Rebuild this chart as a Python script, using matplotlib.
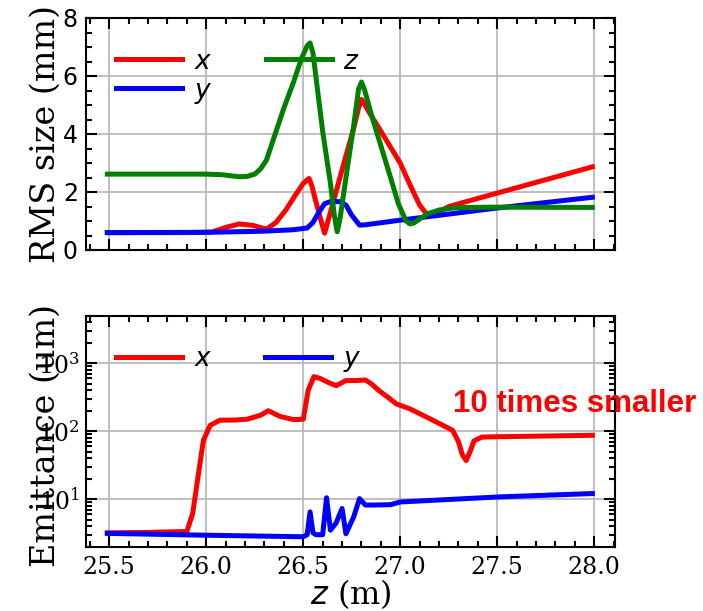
import matplotlib
matplotlib.use("Agg")
import matplotlib.pyplot as plt
from matplotlib.ticker import MultipleLocator, FuncFormatter, FormatStrFormatter, LogLocator, NullFormatter

# ---------------- data ----------------
# Top panel: RMS size (mm)
x_pos = [25.49, 25.90, 26.03, 26.10, 26.17, 26.24, 26.31, 26.36, 26.41, 26.46, 26.50, 26.52,
         26.53, 26.545, 26.56, 26.59, 26.61, 26.64, 26.68, 26.72, 26.76, 26.785, 26.80, 26.815,
         26.84, 26.90, 26.95, 27.00, 27.04, 27.07, 27.10, 27.13, 27.16, 27.20, 27.25, 27.34, 27.99]
x_rms = [0.60, 0.60, 0.62, 0.78, 0.90, 0.85, 0.72, 0.95, 1.38, 1.90, 2.30, 2.42,
         2.47, 2.20, 1.80, 1.05, 0.58, 1.30, 2.28, 3.25, 4.20, 4.90, 5.20, 5.05,
         4.75, 4.10, 3.55, 3.00, 2.40, 1.97, 1.55, 1.29, 1.20, 1.32, 1.50, 1.67, 2.87]

y_pos = [25.49, 26.00, 26.30, 26.45, 26.52, 26.55, 26.58, 26.61, 26.64, 26.69, 26.72,
         26.75, 26.79, 26.82, 27.00, 27.50, 27.99]
y_rms = [0.60, 0.61, 0.65, 0.70, 0.76, 0.95, 1.30, 1.60, 1.67, 1.67, 1.55,
         1.20, 0.86, 0.87, 1.03, 1.45, 1.82]

z_pos = [25.49, 25.70, 26.00, 26.08, 26.13, 26.17, 26.21, 26.25, 26.28, 26.31, 26.35, 26.40,
         26.45, 26.49, 26.52, 26.535, 26.55, 26.60, 26.64, 26.66, 26.675, 26.69, 26.72, 26.76,
         26.785, 26.80, 26.815, 26.85, 26.90, 26.95, 26.99, 27.03, 27.05, 27.07, 27.10, 27.14,
         27.20, 27.27, 27.34, 27.50, 27.99]
z_rms = [2.62, 2.62, 2.62, 2.60, 2.56, 2.53, 2.54, 2.62, 2.80, 3.10, 3.90, 4.90,
         5.80, 6.60, 7.05, 7.15, 6.80, 4.10, 2.30, 1.20, 0.63, 1.10, 2.50, 4.30,
         5.55, 5.80, 5.55, 4.70, 3.60, 2.50, 1.60, 1.00, 0.90, 0.93, 1.07, 1.25,
         1.38, 1.45, 1.47, 1.48, 1.47]

# Bottom panel: emittance (um)
ex_pos = [25.49, 25.70, 25.90, 25.93, 25.96, 25.985, 26.02, 26.07, 26.15, 26.21, 26.28, 26.32,
          26.38, 26.45, 26.50, 26.525, 26.555, 26.585, 26.63, 26.67, 26.72, 26.775, 26.82,
          26.85, 26.89, 26.94, 26.98, 27.05, 27.17, 27.27, 27.30, 27.32, 27.34, 27.36, 27.38,
          27.42, 27.51, 27.99]
ex_val = [3.2, 3.25, 3.35, 6.2, 23.8, 73, 122, 145, 146, 150, 172, 200,
          165, 148, 150, 396, 635, 600, 520, 467, 556, 556, 567,
          500, 396, 310, 252, 213, 144, 103, 70, 45, 37, 50, 72,
          82, 83, 87]

ey_pos = [25.49, 26.00, 26.50, 26.52, 26.535, 26.55, 26.565, 26.60, 26.62, 26.64, 26.67,
          26.70, 26.72, 26.76, 26.79, 26.82, 26.86, 26.95, 27.00, 27.51, 27.99]
ey_val = [3.14, 2.95, 2.80, 3.00, 6.5, 3.2, 3.0, 3.0, 10.5, 3.5, 4.5,
          7.3, 3.1, 5.5, 10.2, 8.2, 8.2, 8.3, 9.1, 10.8, 12.1]

x_ticks = [25.5, 26.0, 26.5, 27.0, 27.5, 28.0]
top_yticks = [0, 2, 4, 6, 8]

# ---------------- style ----------------
plt.rcParams['font.family'] = ['DejaVu Serif']
plt.rcParams['mathtext.fontset'] = 'dejavusans'

W, H = 703, 611
fig = plt.figure(figsize=(W / 100, H / 100), dpi=100)
ax1 = fig.add_axes([86 / W, 1 - 250 / H, (615 - 86) / W, (250 - 18.3) / H])
ax2 = fig.add_axes([86 / W, 1 - 546.7 / H, (615 - 86) / W, (546.7 - 315.7) / H])

lw = 3.6
ax1.plot(x_pos, x_rms, color='r', lw=lw, label='$x$', solid_joinstyle='round')
ax1.plot(y_pos, y_rms, color='b', lw=lw, label='$y$', solid_joinstyle='round')
ax1.plot(z_pos, z_rms, color='g', lw=lw, label='$z$', solid_joinstyle='round')

ax2.plot(ex_pos, ex_val, color='r', lw=lw, label='$x$', solid_joinstyle='round')
ax2.plot(ey_pos, ey_val, color='b', lw=lw, label='$y$', solid_joinstyle='round')
ax2.set_yscale('log')

for ax in (ax1, ax2):
    ax.set_xlim(25.38, 28.107)
    ax.set_xticks(x_ticks)
    ax.xaxis.set_minor_locator(MultipleLocator(0.1))
    ax.grid(True, which='major', color='#b4b4b4', lw=1.2)
    ax.set_axisbelow(True)
    ax.tick_params(which='both', direction='in', top=True, right=True, labelsize=17, width=1.5, pad=7)
    ax.tick_params(which='major', length=8)
    ax.tick_params(which='minor', length=4.5)
    for s in ax.spines.values():
        s.set_linewidth(1.5)
    ax.legend(loc='upper left', ncol=2, frameon=False, fontsize=19,
              handlelength=2.5, handletextpad=0.45, columnspacing=2.0,
              labelspacing=0.15, borderaxespad=0.95, borderpad=0.2)

ax1.set_ylim(0, 8)
ax1.set_yticks(top_yticks)
ax1.yaxis.set_minor_locator(MultipleLocator(0.5))
ax1.yaxis.set_major_formatter(FuncFormatter(lambda v, p: f'${v:g}$'))
ax1.tick_params(axis='y', pad=6)
ax1.tick_params(labelbottom=False)
ax1.set_ylabel('RMS size (mm)', fontsize=24)
ax1.yaxis.set_label_coords(-0.045, 0.5)

ax2.set_ylim(2, 5000)
ax2.yaxis.set_major_locator(LogLocator(base=10, numticks=10))
ax2.yaxis.set_minor_locator(LogLocator(base=10, subs=range(2, 10), numticks=20))
ax2.yaxis.set_minor_formatter(NullFormatter())
ax2.tick_params(axis='y', pad=5)
ax2.xaxis.set_major_formatter(FormatStrFormatter('%.1f'))
ax2.set_ylabel('Emittance (um)', fontsize=24)
ax2.yaxis.set_label_coords(-0.045, 0.48)
ax2.set_xlabel('$z$ (m)', fontsize=23, labelpad=-2)

fig.text(453 / W, 1 - 404 / H, '10 times smaller', color='red', fontsize=22.5,
         fontweight='bold', family=['Liberation Sans', 'DejaVu Sans'], va='center', ha='left')

fig.savefig('out.png', dpi=100)
